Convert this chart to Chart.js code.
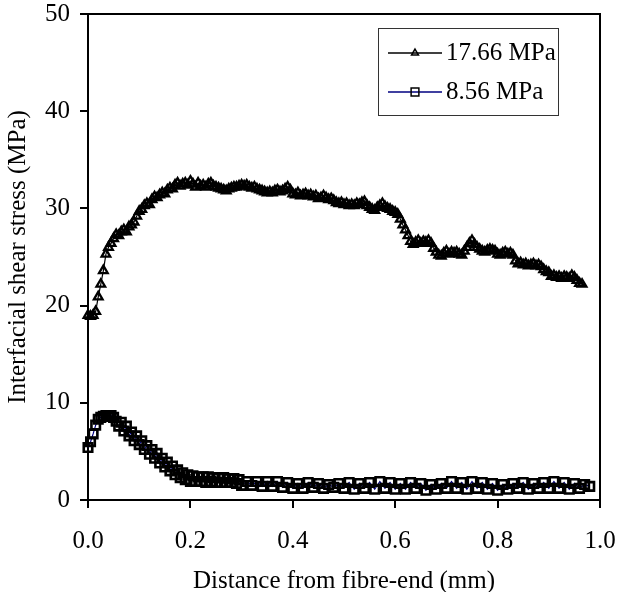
<!DOCTYPE html>
<html>
<head>
<meta charset="utf-8">
<script src="https://cdn.jsdelivr.net/npm/chart.js@4.4.1/dist/chart.umd.min.js"></script>
<style>
  html, body { margin: 0; padding: 0; background: #fff; }
</style>
</head>
<body>
<canvas id="shearChart" width="618" height="592"></canvas>
<script>
"use strict"

// 17.66 MPa series
const dist1 = [
  0.000, 0.005, 0.010, 0.015, 0.020, 0.025, 0.030, 0.035, 0.040, 0.045,
  0.050, 0.055, 0.060, 0.065, 0.070, 0.075, 0.080, 0.085, 0.090, 0.095,
  0.100, 0.105, 0.110, 0.115, 0.120, 0.125, 0.130, 0.135, 0.140, 0.145,
  0.150, 0.155, 0.160, 0.165, 0.170, 0.175, 0.180, 0.185, 0.190, 0.195,
  0.200, 0.205, 0.210, 0.215, 0.220, 0.225, 0.230, 0.235, 0.240, 0.245,
  0.250, 0.255, 0.260, 0.265, 0.270, 0.275, 0.280, 0.285, 0.290, 0.295,
  0.300, 0.305, 0.310, 0.315, 0.320, 0.325, 0.330, 0.335, 0.340, 0.345,
  0.350, 0.355, 0.360, 0.365, 0.370, 0.375, 0.380, 0.385, 0.390, 0.395,
  0.400, 0.405, 0.410, 0.415, 0.420, 0.425, 0.430, 0.435, 0.440, 0.445,
  0.450, 0.455, 0.460, 0.465, 0.470, 0.475, 0.480, 0.485, 0.490, 0.495,
  0.500, 0.505, 0.510, 0.515, 0.520, 0.525, 0.530, 0.535, 0.540, 0.545,
  0.550, 0.555, 0.560, 0.565, 0.570, 0.575, 0.580, 0.585, 0.590, 0.595,
  0.600, 0.605, 0.610, 0.615, 0.620, 0.625, 0.630, 0.635, 0.640, 0.645,
  0.650, 0.655, 0.660, 0.665, 0.670, 0.675, 0.680, 0.685, 0.690, 0.695,
  0.700, 0.705, 0.710, 0.715, 0.720, 0.725, 0.730, 0.735, 0.740, 0.745,
  0.750, 0.755, 0.760, 0.765, 0.770, 0.775, 0.780, 0.785, 0.790, 0.795,
  0.800, 0.805, 0.810, 0.815, 0.820, 0.825, 0.830, 0.835, 0.840, 0.845,
  0.850, 0.855, 0.860, 0.865, 0.870, 0.875, 0.880, 0.885, 0.890, 0.895,
  0.900, 0.905, 0.910, 0.915, 0.920, 0.925, 0.930, 0.935, 0.940, 0.945,
  0.950, 0.955, 0.960, 0.965
];
const stress1 = [
  19.0, 18.9, 19.0, 19.4, 20.9, 22.2, 23.6, 25.3, 26.0, 26.4,
  26.9, 27.3, 27.2, 27.6, 27.8, 27.6, 28.1, 28.3, 28.6, 29.2,
  29.7, 29.9, 30.3, 30.5, 30.4, 30.9, 31.2, 31.1, 31.4, 31.6,
  31.5, 31.9, 32.1, 32.0, 32.4, 32.6, 32.3, 32.5, 32.6, 32.4,
  32.8, 32.5, 32.2, 32.6, 32.3, 32.4, 32.2, 32.5, 32.6, 32.3,
  32.2, 32.1, 32.0, 31.9, 31.8, 32.0, 32.1, 32.2, 32.2, 32.3,
  32.4, 32.3, 32.4, 32.2, 32.1, 32.2, 32.0, 31.9, 31.8, 31.7,
  31.6, 31.7, 31.6, 31.8, 31.9, 31.7, 31.8, 32.0, 32.2, 31.9,
  31.5, 31.4, 31.6, 31.3, 31.4, 31.5, 31.3, 31.4, 31.2, 31.3,
  31.0, 31.1, 31.3, 31.1, 30.9, 31.0, 30.8, 30.6, 30.5, 30.6,
  30.4, 30.5, 30.3, 30.4, 30.3, 30.5, 30.4, 30.6, 30.7, 30.3,
  30.1, 29.9, 29.8, 30.1, 30.3, 30.5, 30.2, 30.0, 29.9, 29.7,
  29.6, 29.4, 28.9, 28.3, 27.8, 27.2, 26.6, 26.3, 26.5, 26.7,
  26.4, 26.6, 26.5, 26.7, 26.4, 25.9, 25.5, 25.2, 25.1, 25.4,
  25.6, 25.3, 25.5, 25.4, 25.5, 25.3, 25.2, 25.6, 26.0, 26.4,
  26.7, 26.3, 26.0, 25.8, 25.6, 25.5, 25.7, 25.8, 25.7, 25.6,
  25.3, 25.2, 25.4, 25.5, 25.3, 25.4, 25.2, 24.6, 24.3, 24.4,
  24.2, 24.3, 24.1, 24.2, 24.3, 24.1, 24.2, 24.0, 23.7, 23.5,
  23.4, 23.0, 23.1, 22.9, 23.0, 22.8, 23.0, 22.9, 22.8, 23.1,
  22.9, 22.6, 22.3, 22.2
];

// 8.56 MPa series
const dist2 = [
  0.000, 0.005, 0.010, 0.015, 0.020, 0.025, 0.030, 0.035, 0.040, 0.045,
  0.050, 0.055, 0.060, 0.065, 0.070, 0.075, 0.080, 0.085, 0.090, 0.095,
  0.100, 0.105, 0.110, 0.115, 0.120, 0.125, 0.130, 0.135, 0.140, 0.145,
  0.150, 0.155, 0.160, 0.165, 0.170, 0.175, 0.180, 0.185, 0.190, 0.195,
  0.200, 0.205, 0.210, 0.215, 0.220, 0.225, 0.230, 0.235, 0.240, 0.245,
  0.250, 0.255, 0.260, 0.265, 0.270, 0.275, 0.280, 0.285, 0.290, 0.295,
  0.300,
  0.31, 0.32, 0.33, 0.34, 0.35, 0.36, 0.37, 0.38, 0.39, 0.40,
  0.41, 0.42, 0.43, 0.44, 0.45, 0.46, 0.47, 0.48, 0.49, 0.50,
  0.51, 0.52, 0.53, 0.54, 0.55, 0.56, 0.57, 0.58, 0.59, 0.60,
  0.61, 0.62, 0.63, 0.64, 0.65, 0.66, 0.67, 0.68, 0.69, 0.70,
  0.71, 0.72, 0.73, 0.74, 0.75, 0.76, 0.77, 0.78, 0.79, 0.80,
  0.81, 0.82, 0.83, 0.84, 0.85, 0.86, 0.87, 0.88, 0.89, 0.90,
  0.91, 0.92, 0.93, 0.94, 0.95, 0.96, 0.97, 0.98
];
const stress2 = [
  5.4, 6.0, 6.8, 7.7, 8.3, 8.5, 8.6, 8.7, 8.6, 8.7,
  8.5, 8.1, 7.6, 8.0, 7.1, 7.6, 6.6, 7.0, 6.1, 6.6,
  5.7, 6.1, 5.2, 5.6, 4.7, 5.2, 4.3, 4.8, 3.8, 4.3,
  3.4, 3.9, 3.0, 3.5, 2.6, 3.1, 2.3, 2.8, 2.1, 2.6,
  1.9, 2.5, 1.9, 2.4, 1.9, 2.4, 1.8, 2.4, 1.9, 2.3,
  1.8, 2.3, 1.8, 2.3, 1.8, 2.2, 1.8, 2.2, 1.7, 2.1,
  1.5,
  1.9, 1.5, 1.9, 1.4, 1.9, 1.4, 1.9, 1.3, 1.8, 1.2,
  1.7, 1.2, 1.8, 1.3, 1.7, 1.2, 1.6, 1.3, 1.7, 1.2,
  1.8, 1.1, 1.7, 1.2, 1.8, 1.1, 1.9, 1.2, 1.8, 1.1,
  1.7, 1.1, 1.8, 1.2, 1.7, 1.0, 1.6, 1.1, 1.7, 1.2,
  1.9, 1.2, 1.8, 1.1, 1.9, 1.2, 1.8, 1.1, 1.7, 1.0,
  1.6, 1.1, 1.7, 1.2, 1.8, 1.1, 1.7, 1.2, 1.8, 1.2,
  1.9, 1.2, 1.8, 1.1, 1.7, 1.2, 1.6, 1.4
];

const seriesNames = ["17.66 MPa", "8.56 MPa"];
const xTitle = "Distance from fibre-end (mm)";
const yTitle = "Interfacial shear stress (MPa)";

const serif = "'Liberation Serif', 'Times New Roman', serif";

function toPoints(xs, ys) {
    return xs.map((x, i) => ({ x: x, y: ys[i] }));
}

// top + right border of the plot box
const frame = {
    id: 'frame',
    afterDatasetsDraw(chart) {
        const { ctx, chartArea: a } = chart;
        ctx.save();
        ctx.strokeStyle = '#000';
        ctx.lineWidth = 2;
        ctx.beginPath();
        ctx.moveTo(a.left, a.top);
        ctx.lineTo(a.right, a.top);
        ctx.lineTo(a.right, a.bottom);
        ctx.stroke();
        ctx.restore();
    }
};

// boxed legend inside the plot, upper right
const boxLegend = {
    id: 'boxLegend',
    afterDraw(chart) {
        const ctx = chart.ctx;
        ctx.save();
        ctx.fillStyle = '#fff';
        ctx.fillRect(378, 28, 180, 87);
        ctx.strokeStyle = '#333';
        ctx.lineWidth = 1;
        ctx.strokeRect(378.5, 28.5, 180, 87);
        chart.data.datasets.forEach((ds, i) => {
            const y = 53 + i * 39;
            ctx.strokeStyle = ds.borderColor;
            ctx.lineWidth = 1.5;
            ctx.beginPath();
            ctx.moveTo(388, y);
            ctx.lineTo(442, y);
            ctx.stroke();
            ctx.strokeStyle = ds.pointBorderColor;
            ctx.fillStyle = 'rgba(0,0,0,0)';
            Chart.helpers.drawPoint(ctx, {
                pointStyle: ds.pointStyle,
                radius: ds.pointStyle === 'triangle' ? 4 : 5.5,
                rotation: 0,
                borderWidth: 1.8
            }, 415, y);
            ctx.fillStyle = '#000';
            ctx.font = "25px " + serif;
            ctx.textBaseline = 'middle';
            ctx.fillText(ds.label, 446, y);
        });
        ctx.restore();
    }
};

const ctx = document.getElementById('shearChart').getContext('2d');
new Chart(ctx, {
    type: 'line',
    data: {
        datasets: [
            {
                label: seriesNames[0],
                data: toPoints(dist1, stress1),
                borderColor: '#000',
                borderWidth: 1.2,
                pointStyle: 'triangle',
                pointRadius: 5,
                pointBorderColor: '#000',
                pointBackgroundColor: 'rgba(0,0,0,0)',
                pointBorderWidth: 2.3,
                tension: 0,
                clip: false
            },
            {
                label: seriesNames[1],
                data: toPoints(dist2, stress2),
                borderColor: '#000080',
                borderWidth: 1.2,
                pointStyle: 'rect',
                pointRadius: 6,
                pointBorderColor: '#000',
                pointBackgroundColor: 'rgba(0,0,0,0)',
                pointBorderWidth: 2.6,
                tension: 0,
                clip: false
            }
        ]
    },
    options: {
        responsive: false,
        animation: false,
        layout: { padding: { left: 0, right: 18, top: 14, bottom: 0 } },
        plugins: {
            legend: { display: false },
            tooltip: { enabled: false }
        },
        scales: {
            x: {
                type: 'linear',
                min: 0,
                max: 1,
                afterFit: s => {
                    s.height = 92;
                    s.paddingLeft = 0;
                    s.paddingRight = 0;
                },
                ticks: {
                    stepSize: 0.2,
                    color: '#000',
                    padding: 18,
                    maxRotation: 0,
                    font: { family: serif, size: 25 },
                    callback: v => v.toFixed(1)
                },
                grid: { drawOnChartArea: false, color: '#000', lineWidth: 2, tickLength: 8 },
                border: { color: '#000', width: 2 },
                title: {
                    display: true,
                    text: xTitle,
                    color: '#000',
                    font: { family: serif, size: 25, lineHeight: 0.88 },
                    padding: 0
                }
            },
            y: {
                min: 0,
                max: 50,
                afterFit: s => {
                    s.width = 88;
                    s.paddingTop = 0;
                    s.paddingBottom = 0;
                },
                ticks: {
                    stepSize: 10,
                    color: '#000',
                    padding: 10,
                    font: { family: serif, size: 25 }
                },
                grid: { drawOnChartArea: false, color: '#000', lineWidth: 2, tickLength: 8 },
                border: { color: '#000', width: 2 },
                title: {
                    display: true,
                    text: yTitle,
                    color: '#000',
                    font: { family: serif, size: 25, lineHeight: 1.2 },
                    padding: { top: 3, bottom: 0 }
                }
            }
        }
    },
    plugins: [frame, boxLegend]
});
</script>
</body>
</html>
